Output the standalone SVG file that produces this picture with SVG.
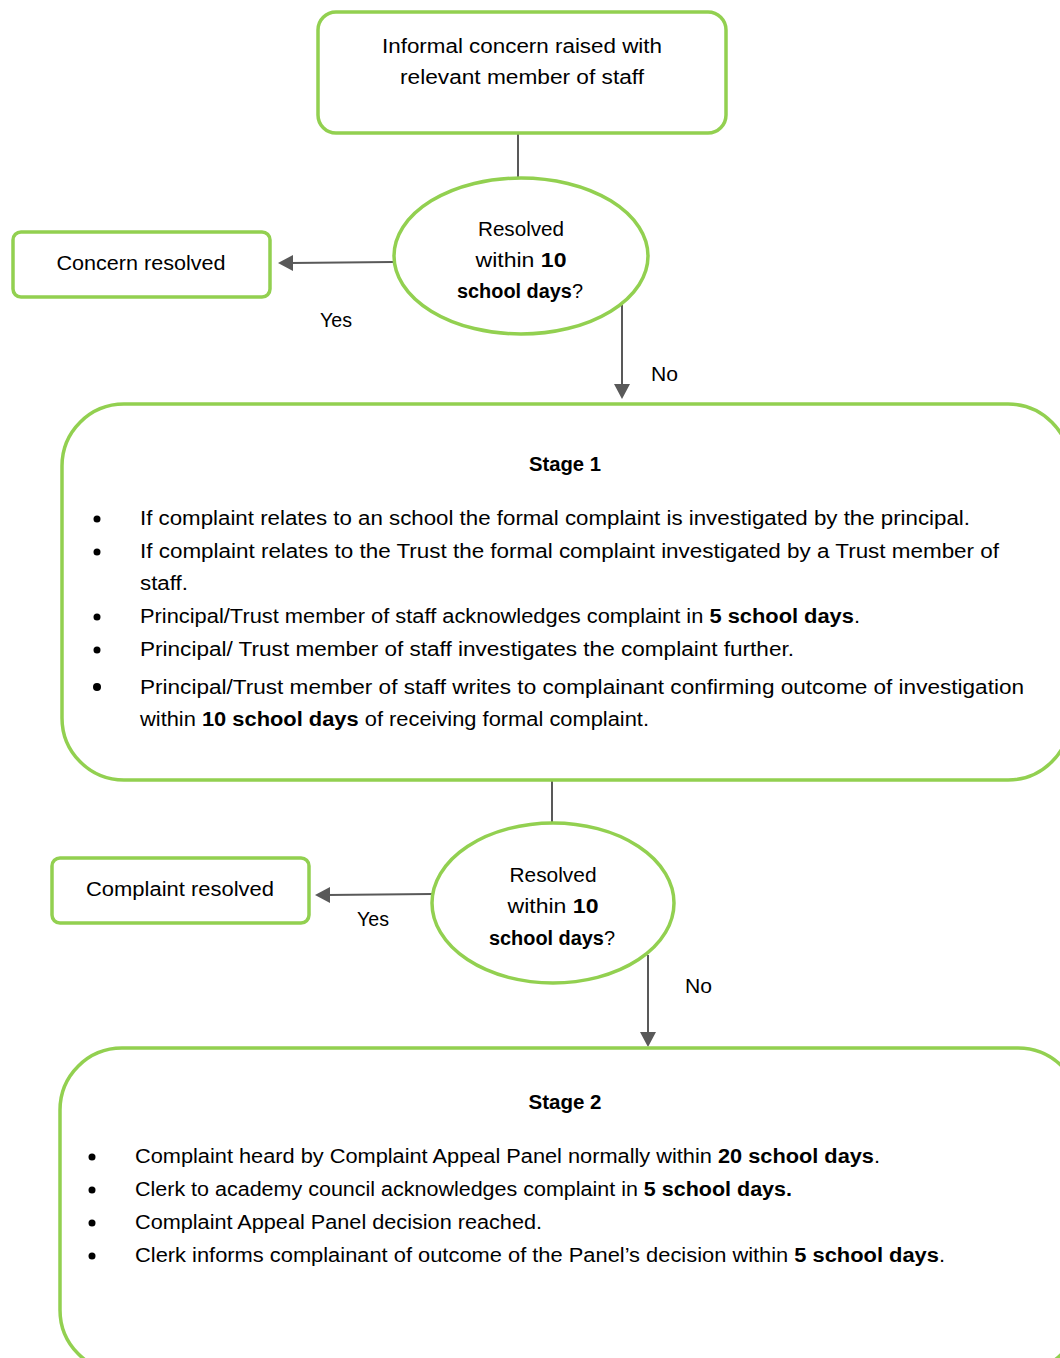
<svg xmlns="http://www.w3.org/2000/svg" width="1060" height="1358" viewBox="0 0 1060 1358">
<defs>
<style>
.box{fill:#ffffff;stroke:#92d050;stroke-width:3.5}
.t{font-family:"Liberation Sans",Arial,sans-serif;font-size:20px;fill:#000}
.c{text-anchor:middle}
.b{font-weight:bold}
.con{stroke:#595959;stroke-width:2;fill:none}
.head{fill:#595959}
.dot{fill:#000}
</style>
</defs>
<rect width="1060" height="1358" fill="#ffffff"/>

<g id="connectors">
<line class="con" x1="518" y1="133" x2="518" y2="178"/>
<line class="con" x1="393" y1="262" x2="290" y2="263"/>
<path class="head" d="M278,263 l15,-8 v16 z"/>
<line class="con" x1="622" y1="305" x2="622" y2="386"/>
<path class="head" d="M622,399 l-8,-15 h16 z"/>
<line class="con" x1="552" y1="780" x2="552" y2="822"/>
<line class="con" x1="432" y1="894" x2="327" y2="895"/>
<path class="head" d="M315,895 l15,-8 v16 z"/>
<line class="con" x1="648" y1="955" x2="648" y2="1034"/>
<path class="head" d="M648,1047 l-8,-15 h16 z"/>
<text class="t" x="320" y="327" textLength="32" lengthAdjust="spacingAndGlyphs">Yes</text>
<text class="t" x="651" y="381" textLength="27" lengthAdjust="spacingAndGlyphs">No</text>
<text class="t" x="357" y="926" textLength="32" lengthAdjust="spacingAndGlyphs">Yes</text>
<text class="t" x="685" y="993" textLength="27" lengthAdjust="spacingAndGlyphs">No</text>
</g>

<g id="informal">
<rect class="box" x="318" y="12" width="408" height="121" rx="18"/>
<text class="t c" x="522" y="53" textLength="280" lengthAdjust="spacingAndGlyphs">Informal concern raised with</text>
<text class="t c" x="522" y="84" textLength="244" lengthAdjust="spacingAndGlyphs">relevant member of staff</text>
</g>

<g id="decision1">
<ellipse class="box" cx="521" cy="256" rx="127" ry="78"/>
<text class="t c" x="521" y="236" textLength="86" lengthAdjust="spacingAndGlyphs">Resolved</text>
<text class="t c" x="521" y="267" textLength="91" lengthAdjust="spacingAndGlyphs">within <tspan class="b">10</tspan></text>
<text class="t c" x="520" y="298" textLength="126" lengthAdjust="spacingAndGlyphs"><tspan class="b">school days</tspan>?</text>
</g>

<g id="concern-resolved">
<rect class="box" x="13" y="232" width="257" height="65" rx="8"/>
<text class="t c" x="141" y="270" textLength="169" lengthAdjust="spacingAndGlyphs">Concern resolved</text>
</g>

<g id="stage1">
<rect class="box" x="62" y="404" width="1008" height="376" rx="62"/>
<text class="t c b" x="565" y="471" textLength="72" lengthAdjust="spacingAndGlyphs">Stage 1</text>
<circle class="dot" cx="97" cy="519" r="3.5"/>
<text class="t" x="140" y="525" textLength="830" lengthAdjust="spacingAndGlyphs">If complaint relates to an school the formal complaint is investigated by the principal.</text>
<circle class="dot" cx="97" cy="552" r="3.5"/>
<text class="t" x="140" y="558" textLength="859" lengthAdjust="spacingAndGlyphs">If complaint relates to the Trust the formal complaint investigated by a Trust member of</text>
<text class="t" x="140" y="590" textLength="48" lengthAdjust="spacingAndGlyphs">staff.</text>
<circle class="dot" cx="97" cy="617" r="3.5"/>
<text class="t" x="140" y="623" textLength="720" lengthAdjust="spacingAndGlyphs">Principal/Trust member of staff acknowledges complaint in <tspan class="b">5 school days</tspan>.</text>
<circle class="dot" cx="97" cy="650" r="3.5"/>
<text class="t" x="140" y="656" textLength="654" lengthAdjust="spacingAndGlyphs">Principal/ Trust member of staff investigates the complaint further.</text>
<circle class="dot" cx="97" cy="687" r="4"/>
<text class="t" x="140" y="694" textLength="884" lengthAdjust="spacingAndGlyphs">Principal/Trust member of staff writes to complainant confirming outcome of investigation</text>
<text class="t" x="140" y="726" textLength="509" lengthAdjust="spacingAndGlyphs">within <tspan class="b">10 school days</tspan> of receiving formal complaint.</text>
</g>

<g id="decision2">
<ellipse class="box" cx="553" cy="903" rx="121" ry="80"/>
<text class="t c" x="553" y="882" textLength="87" lengthAdjust="spacingAndGlyphs">Resolved</text>
<text class="t c" x="553" y="913" textLength="91" lengthAdjust="spacingAndGlyphs">within <tspan class="b">10</tspan></text>
<text class="t c" x="552" y="945" textLength="126" lengthAdjust="spacingAndGlyphs"><tspan class="b">school days</tspan>?</text>
</g>

<g id="complaint-resolved">
<rect class="box" x="52" y="858" width="257" height="65" rx="8"/>
<text class="t c" x="180" y="896" textLength="188" lengthAdjust="spacingAndGlyphs">Complaint resolved</text>
</g>

<g id="stage2">
<rect class="box" x="60" y="1048" width="1020" height="324" rx="62"/>
<text class="t c b" x="565" y="1109" textLength="73" lengthAdjust="spacingAndGlyphs">Stage 2</text>
<circle class="dot" cx="92" cy="1157" r="3.5"/>
<text class="t" x="135" y="1163" textLength="745" lengthAdjust="spacingAndGlyphs">Complaint heard by Complaint Appeal Panel normally within <tspan class="b">20 school days</tspan>.</text>
<circle class="dot" cx="92" cy="1190" r="3.5"/>
<text class="t" x="135" y="1196" textLength="657" lengthAdjust="spacingAndGlyphs">Clerk to academy council acknowledges complaint in <tspan class="b">5 school days.</tspan></text>
<circle class="dot" cx="92" cy="1223" r="3.5"/>
<text class="t" x="135" y="1229" textLength="407" lengthAdjust="spacingAndGlyphs">Complaint Appeal Panel decision reached.</text>
<circle class="dot" cx="92" cy="1256" r="3.5"/>
<text class="t" x="135" y="1262" textLength="810" lengthAdjust="spacingAndGlyphs">Clerk informs complainant of outcome of the Panel’s decision within <tspan class="b">5 school days</tspan>.</text>
</g>
</svg>
